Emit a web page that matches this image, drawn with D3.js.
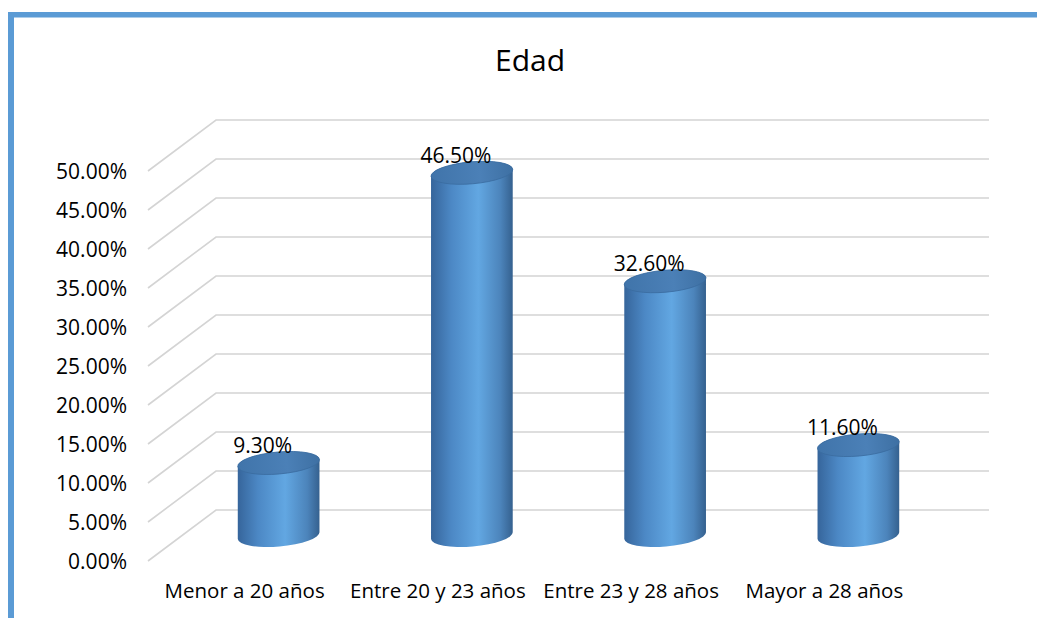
<!DOCTYPE html>
<html>
<head>
<meta charset="utf-8">
<script src="https://cdn.jsdelivr.net/npm/d3@7"></script>
<style>
  body { margin: 0; background: #fff; }
  text { font-family: "Open Sans", sans-serif; fill: #000; }
</style>
</head>
<body>
<svg id="chart"></svg>
<script>
// data
var categories = ["Menor a 20 años", "Entre 20 y 23 años", "Entre 23 y 28 años", "Mayor a 28 años"];
var values = [0.093, 0.465, 0.326, 0.116];
var valueLabels = ["9.30%", "46.50%", "32.60%", "11.60%"];
var ticks = [0, 0.05, 0.10, 0.15, 0.20, 0.25, 0.30, 0.35, 0.40, 0.45, 0.50];

var width = 1037, height = 618;
var depthX = 68, depthY = -51;   // offset from front plane to back wall

var svg = d3.select("#chart")
    .attr("width", width)
    .attr("height", height);

// frame: blue line on top and left
svg.append("rect").attr("x", 8).attr("y", 12).attr("width", width - 8).attr("height", 5.5).attr("fill", "#5b9bd5");
svg.append("rect").attr("x", 8).attr("y", 12).attr("width", 6).attr("height", height - 12).attr("fill", "#5b9bd5");

var x = d3.scaleBand()
    .domain(categories)
    .range([148, 921]);

var y = d3.scaleLinear()
    .domain([0, 0.5])
    .range([561, 171]);

var defs = svg.append("defs");
var sideGrad = defs.append("linearGradient").attr("id", "side")
    .attr("x1", 0).attr("x2", 1).attr("y1", 0).attr("y2", 0);
sideGrad.append("stop").attr("offset", "0%").attr("stop-color", "#36659b");
sideGrad.append("stop").attr("offset", "25%").attr("stop-color", "#4c88c5");
sideGrad.append("stop").attr("offset", "58%").attr("stop-color", "#62a7e2");
sideGrad.append("stop").attr("offset", "85%").attr("stop-color", "#4c84bb");
sideGrad.append("stop").attr("offset", "100%").attr("stop-color", "#35618f");

var topGrad = defs.append("linearGradient").attr("id", "top")
    .attr("x1", 0).attr("x2", 1).attr("y1", 0).attr("y2", 0);
topGrad.append("stop").attr("offset", "0%").attr("stop-color", "#4074aa");
topGrad.append("stop").attr("offset", "60%").attr("stop-color", "#4b80b7");
topGrad.append("stop").attr("offset", "100%").attr("stop-color", "#3e70a3");

// gridlines: diagonal on the side wall, horizontal on the back wall
var grid = svg.append("g").attr("class", "grid")
    .attr("fill", "none")
    .attr("stroke", "#d4d4d4")
    .attr("stroke-width", 1.6);

grid.selectAll("path")
    .data(ticks)
    .enter().append("path")
    .attr("d", function(d) {
        return "M" + x.range()[0] + "," + y(d) +
            "L" + (x.range()[0] + depthX) + "," + (y(d) + depthY) +
            "L" + (x.range()[1] + depthX) + "," + (y(d) + depthY);
    });

// y axis labels
svg.append("g").selectAll("text")
    .data(ticks)
    .enter().append("text")
    .attr("x", 127)
    .attr("y", function(d) { return y(d); })
    .attr("dy", "0.36em")
    .attr("text-anchor", "end")
    .style("font-size", "21px")
    .text(function(d) { return d3.format(".2%")(d); });

// x axis labels
svg.append("g").selectAll("text")
    .data(categories)
    .enter().append("text")
    .attr("x", function(d) { return x(d) + x.bandwidth() / 2; })
    .attr("y", 598)
    .attr("text-anchor", "middle")
    .style("font-size", "20.5px")
    .text(function(d) { return d; });

// cylinders
var rx = 41, ry = 11, rot = -5;
var cosR = Math.cos(rot * Math.PI / 180), sinR = Math.sin(rot * Math.PI / 180);

function cx(i) { return x(categories[i]) + x.bandwidth() / 2 + depthX / 2; }
function cy(v) { return y(v) + depthY / 2; }

var bars = svg.append("g").selectAll("g")
    .data(values)
    .enter().append("g");

bars.append("path")
    .attr("fill", "url(#side)")
    .attr("d", function(d, i) {
        var c = cx(i), t = cy(d), b = cy(0);
        var lx = c - rx * cosR, ly = -rx * sinR, rxx = c + rx * cosR, ryy = rx * sinR;
        return "M" + lx + "," + (t + ly) +
            "L" + lx + "," + (b + ly) +
            "A" + rx + "," + ry + " " + rot + " 0 0 " + rxx + "," + (b + ryy) +
            "L" + rxx + "," + (t + ryy) +
            "A" + rx + "," + ry + " " + rot + " 0 0 " + lx + "," + (t + ly) + "Z";
    });

bars.append("ellipse")
    .attr("cx", function(d, i) { return cx(i); })
    .attr("cy", function(d) { return cy(d); })
    .attr("rx", rx)
    .attr("ry", ry)
    .attr("transform", function(d, i) { return "rotate(" + rot + "," + cx(i) + "," + cy(d) + ")"; })
    .attr("fill", "url(#top)")
    .attr("stroke", "#3a6b9f")
    .attr("stroke-width", 0.8);

// value labels
bars.append("text")
    .attr("x", function(d, i) { return cx(i) - 16; })
    .attr("y", function(d) { return cy(d) - 10; })
    .attr("text-anchor", "middle")
    .style("font-size", "21px")
    .text(function(d, i) { return valueLabels[i]; });

// title
svg.append("text")
    .attr("x", 530)
    .attr("y", 71)
    .attr("text-anchor", "middle")
    .style("font-size", "30px")
    .text("Edad");
</script>
</body>
</html>
